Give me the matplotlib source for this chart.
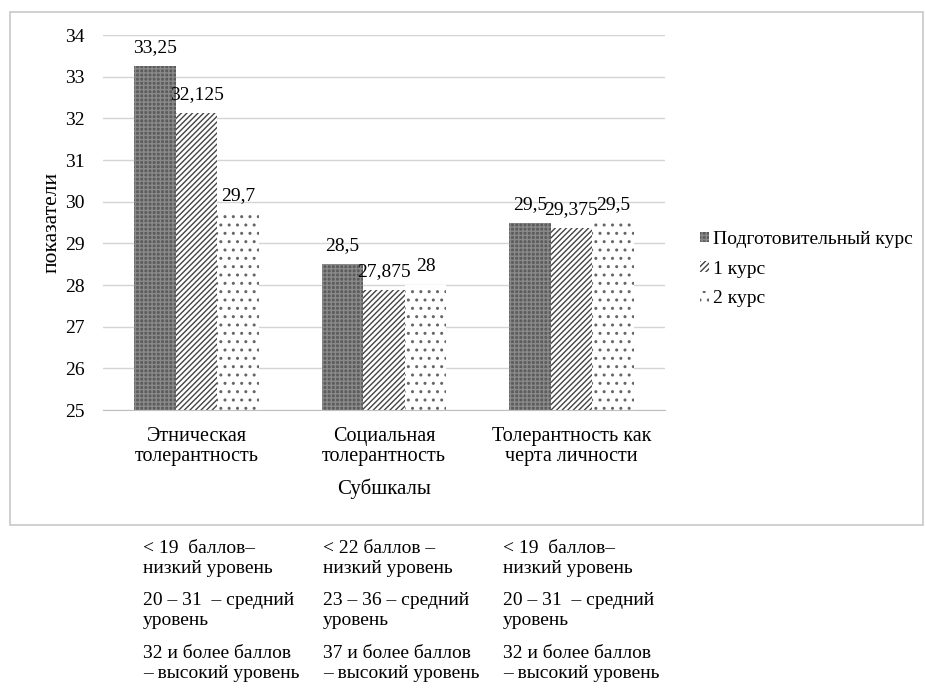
import matplotlib.pyplot as plt
from matplotlib.patches import Rectangle, Patch

plt.rcParams['font.family'] = ['Liberation Serif', 'DejaVu Serif']
plt.rcParams['hatch.linewidth'] = 1.0

categories = ["Этническая\nтолерантность", "Социальная\nтолерантность", "Толерантность как\nчерта личности"]
series_names = ["Подготовительный курс", "1 курс", "2 курс"]
values = [
    [33.25, 28.5, 29.5],      # Подготовительный курс
    [32.125, 27.875, 29.375], # 1 курс
    [29.7, 28, 29.5],         # 2 курс
]
value_labels = [
    ["33,25", "28,5", "29,5"],
    ["32,125", "27,875", "29,375"],
    ["29,7", "28", "29,5"],
]
yticks = [25, 26, 27, 28, 29, 30, 31, 32, 33, 34]
norms = [
    ["< 19  баллов–\nнизкий уровень", "20 – 31  – средний\nуровень", "32 и более баллов\n– высокий уровень"],
    ["< 22 баллов –\nнизкий уровень", "23 – 36 – средний\nуровень", "37 и более баллов\n– высокий уровень"],
    ["< 19  баллов–\nнизкий уровень", "20 – 31  – средний\nуровень", "32 и более баллов\n– высокий уровень"],
]

styles = [
    dict(facecolor='#5c5c5c', edgecolor='#8a8a8a', hatch='++++'),
    dict(facecolor='white', edgecolor='#444444', hatch='//////'),
    dict(facecolor='white', edgecolor='#666666', hatch='..'),
]

W, H = 926, 691
fig = plt.figure(figsize=(W / 100, H / 100), dpi=100)

# outer chart frame
fig.patches.append(Rectangle((10 / W, 1 - 525 / H), 913 / W, 513 / H,
                             transform=fig.transFigure, fill=False,
                             edgecolor='#c8c8c8', linewidth=1.2))

ax = fig.add_axes([103 / W, 1 - 410 / H, 562 / W, 375 / H])
width = 0.222
x = range(len(categories))
for i, (vals, labs, st) in enumerate(zip(values, value_labels, styles)):
    pos = [c + (i - 1) * width for c in x]
    ax.bar(pos, [v - 25 for v in vals], width, bottom=25, linewidth=0, **st)
    for p, v, lab in zip(pos, vals, labs):
        ax.annotate(lab, (p, v), xytext=(0, 7), textcoords='offset points',
                    ha='center', va='bottom', fontsize=14, annotation_clip=False)

ax.set_xlim(-0.5, 2.5)
ax.set_ylim(25, 34)
ax.set_yticks(yticks)
ax.set_yticklabels([str(t) for t in yticks], fontsize=14)
ax.set_xticks(list(x))
ax.set_xticklabels(categories, fontsize=14.5, linespacing=1.08)
ax.tick_params(length=0)
ax.tick_params(axis='x', pad=12)
ax.tick_params(axis='y', pad=13)
ax.grid(axis='y', color='#d4d4d4', linewidth=1)
ax.set_axisbelow(True)
for s in ['top', 'right', 'left']:
    ax.spines[s].set_visible(False)
ax.spines['bottom'].set_color('#c0c0c0')
ax.set_ylabel("показатели", fontsize=15.5, labelpad=3)
ax.set_xlabel("Субшкалы", fontsize=15, labelpad=9)

handles = [Patch(**st, linewidth=0) for st in styles]
fig.legend(handles, series_names, loc='upper left', bbox_to_anchor=(700 / W, 1 - 231 / H),
           frameon=False, fontsize=14, handlelength=0.45, handleheight=0.45,
           handletextpad=0.2, labelspacing=0.65, borderaxespad=0, borderpad=0)

# score norms printed under each subscale
col_x = [143, 323, 503]
row_y = [540, 592, 645]
for cx, col in zip(col_x, norms):
    for ry, txt in zip(row_y, col):
        fig.text(cx / W, 1 - ry / H, txt, ha='left', va='top', fontsize=14, linespacing=1.26)

fig.savefig("out.png", dpi=100)
